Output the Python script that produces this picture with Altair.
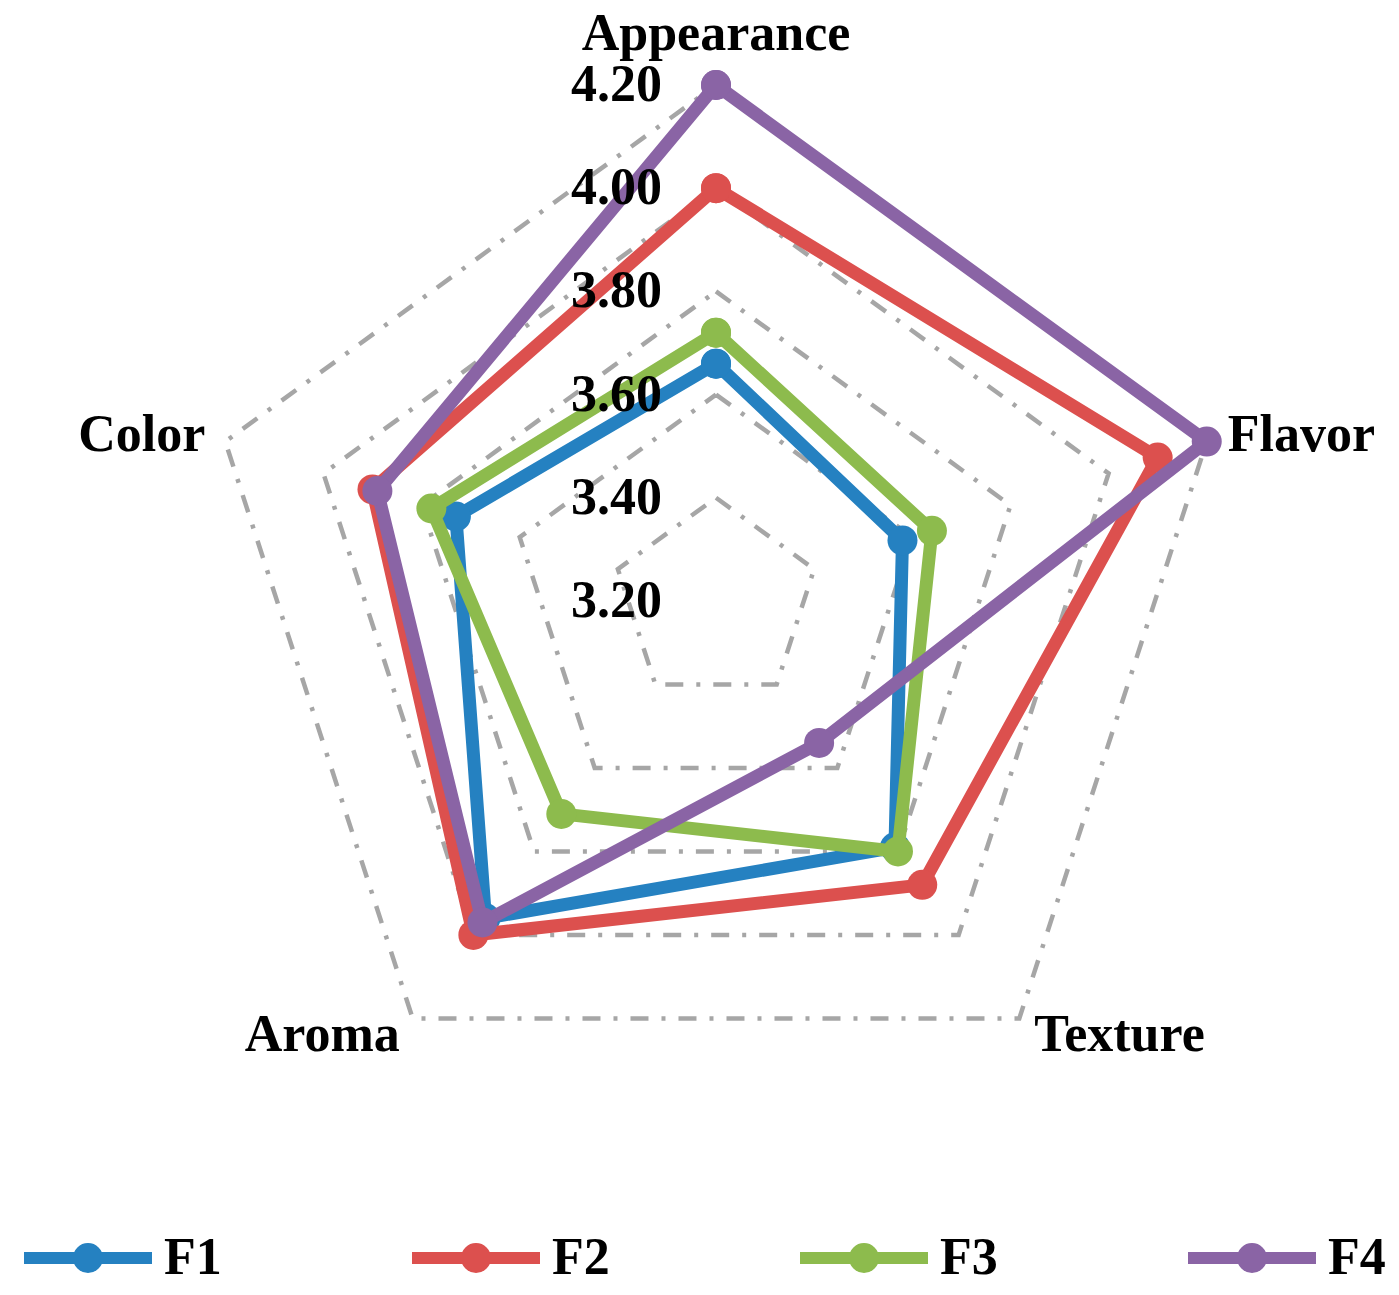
import altair as alt
import pandas as pd

# ---------------- data ----------------
categories = ["Appearance", "Flavor", "Texture", "Aroma", "Color"]
series_names = ["F1", "F2", "F3", "F4"]
f1 = [3.66, 3.58, 3.79, 3.96, 3.73]
f2 = [4.00, 4.10, 3.88, 4.00, 3.90]
f3 = [3.72, 3.64, 3.80, 3.71, 3.78]
f4 = [4.20, 4.20, 3.54, 3.97, 3.89]
tick_values = [3.20, 3.40, 3.60, 3.80, 4.00, 4.20]
tick_labels = ["3.20", "3.40", "3.60", "3.80", "4.00", "4.20"]
colors = ["#2581c1", "#dc504e", "#8dbb4d", "#8a64a5"]

R_MIN = tick_values[0]
n = len(categories)

rows = []
for s, vals in zip(series_names, [f1, f2, f3, f4]):
    for k in range(n + 1):
        i = k % n
        rows.append({"series": s, "order": k, "idx": i, "value": vals[i]})
series_df = pd.DataFrame(rows)

grid_rows = []
for lv in tick_values[1:]:
    for k in range(n + 1):
        grid_rows.append({"level": lv, "order": k, "idx": k % n, "value": lv})
grid_df = pd.DataFrame(grid_rows)

cat_df = pd.DataFrame({"category": categories, "idx": list(range(n)),
                       "value": [tick_values[-1]] * n})
tick_df = pd.DataFrame({"label": tick_labels, "value": tick_values, "idx": [0] * len(tick_values)})

# ---------------- layout ----------------
W, H = 1383, 1272
PX = 516.0          # pixels per 1.0 of value
CX, CY = 708.0, 593.0
x_dom = [-CX / PX, (W - CX) / PX]
y_dom = [-(H - CY) / PX, CY / PX]

FONT = "Liberation Serif"
FS = 52


def polar(ch):
    return (ch.transform_calculate(r=f"datum.value - {R_MIN}",
                                   theta=f"PI/2 - 2*PI*datum.idx/{n}")
              .transform_calculate(px="datum.r*cos(datum.theta)",
                                   py="datum.r*sin(datum.theta)"))


X = alt.X("px:Q", scale=alt.Scale(domain=x_dom, nice=False, zero=False), axis=None)
Y = alt.Y("py:Q", scale=alt.Scale(domain=y_dom, nice=False, zero=False), axis=None)

sym_path = ("M-1,0L1,0"
            "M-0.14,0A0.14,0.14,0,1,0,0.14,0A0.14,0.14,0,1,0,-0.14,0"
            "M-0.045,0A0.045,0.045,0,1,0,0.045,0A0.045,0.045,0,1,0,-0.045,0")
legend = alt.Legend(
    title=None, orient="none", legendX=10, legendY=1180, direction="horizontal",
    symbolType=sym_path, symbolSize=16384, symbolStrokeWidth=12, symbolOpacity=1,
    labelFont=FONT, labelFontSize=FS, labelFontWeight="bold", labelColor="black",
    labelOffset=6, columnPadding=166, padding=0, labelLimit=0,
)
scale_c = alt.Scale(domain=series_names, range=colors)
COLOR_L = alt.Color("series:N", scale=scale_c, legend=legend)
COLOR_P = alt.Color("series:N", scale=scale_c, legend=None)

layers = []

grid = polar(alt.Chart(grid_df)).mark_line(
    color="#a6a6a6", strokeWidth=4.5, strokeDash=[18, 13, 4, 13]
).encode(x=X, y=Y, detail="level:N", order="order:Q")
layers.append(grid)

for s in series_names:
    base = polar(alt.Chart(series_df).transform_filter(f"datum.series == '{s}'"))
    layers.append(base.mark_line(strokeWidth=13, strokeJoin="round").encode(
        x=X, y=Y, order="order:Q", color=COLOR_L))
    layers.append(base.mark_circle(size=900, opacity=1).encode(
        x=X, y=Y, color=COLOR_P))

ticks = polar(alt.Chart(tick_df)).mark_text(
    align="right", baseline="middle", dx=-54, font=FONT, fontSize=FS,
    fontWeight="bold", color="black"
).encode(x=X, y=Y, text="label:N")
layers.append(ticks)

label_style = {
    "Appearance": dict(align="center", dx=0, dy=-51),
    "Flavor": dict(align="left", dx=21, dy=-7),
    "Texture": dict(align="left", dx=15, dy=17),
    "Aroma": dict(align="right", dx=-13, dy=17),
    "Color": dict(align="right", dx=-20, dy=-7),
}
for c in categories:
    st = label_style[c]
    layers.append(polar(alt.Chart(cat_df).transform_filter(f"datum.category == '{c}'"))
                  .mark_text(baseline="middle", font=FONT, fontSize=FS,
                             fontWeight="bold", color="black", **st)
                  .encode(x=X, y=Y, text="category:N"))

chart = alt.layer(*layers).properties(
    width=W, height=H, padding=0,
    autosize=alt.AutoSizeParams(type="none"),
).configure_view(stroke=None)

chart.save("out.html", embed_options={"renderer": "svg", "actions": False})
